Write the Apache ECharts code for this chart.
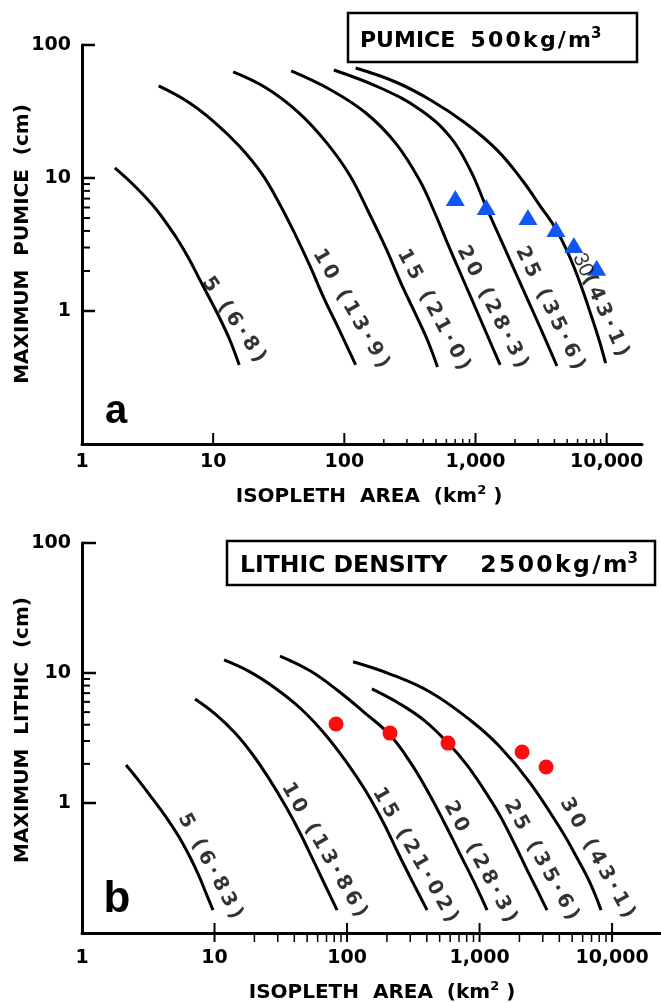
<!DOCTYPE html>
<html>
<head>
<meta charset="utf-8">
<script src="https://cdn.jsdelivr.net/npm/echarts@6/dist/echarts.min.js"></script>
<style>
  html, body { margin: 0; padding: 0; background: #fff; }
  #chart { width: 661px; height: 1003px; }
</style>
</head>
<body>
<div id="chart"></div>
<script>
// ---- panel a: pumice (500 kg/m3) ----
const pumiceLabels = ['5 (6·8)', '10 (13·9)', '15 (21·0)', '20 (28·3)', '25 (35·6)', '(43·1)']
// isopleth area (km2) and max clast size (cm) along each column-height curve
const pumiceArea = [
  [1.78, 2.61, 3.71, 5.26, 6.49, 7.86, 9.53, 11.4, 13.5, 15.8],
  [3.84, 6.27, 10.0, 15.8, 23.6, 32.4, 42.8, 54.7, 69.9, 92.4, 122],
  [14.2, 25.4, 44.4, 72.4, 110, 153, 207, 268, 343, 430, 513],
  [39.3, 79.0, 146, 246, 374, 486, 611, 766, 978, 1228, 1542],
  [83.2, 189, 381, 643, 912, 1207, 1652, 2265, 3101, 4178],
  [122, 246, 454, 836, 1462, 2265, 3155, 4102, 5150, 6350, 7690, 8850, 9820]
]
const pumiceSize = [
  [11.9, 8.41, 5.75, 3.54, 2.50, 1.74, 1.21, 0.856, 0.595, 0.393],
  [49.2, 37.9, 26.8, 17.4, 10.7, 6.27, 3.66, 2.18, 1.25, 0.707, 0.393],
  [62.7, 47.5, 31.3, 18.7, 10.5, 5.55, 2.98, 1.65, 0.983, 0.605, 0.379],
  [63.8, 45.9, 30.8, 18.3, 9.66, 5.55, 3.24, 1.93, 1.11, 0.660, 0.393],
  [64.9, 47.5, 32.5, 20.3, 11.5, 6.05, 3.03, 1.51, 0.758, 0.386],
  [67.1, 52.7, 38.6, 25.9, 16.2, 9.66, 6.05, 4.14, 2.64, 1.57, 0.901, 0.585, 0.406]
]
const pumiceObsArea = [702, 1207, 2512, 4105, 5623, 8395]
const pumiceObsSize = [7.08, 6.05, 5.09, 4.14, 3.13, 2.11]
// where each curve label sits, and its slant (deg)
const pumiceLabelAt = [[14.3, 0.86], [112, 1.04], [478, 1.02], [1340, 1.07], [3690, 1.05], [9000, 1.11]]
const pumiceLabelRot = [-56, -60, -62, -63, -64, -66]

// ---- panel b: lithic (2500 kg/m3) ----
const lithicLabels = ['5 (6·83)', '10 (13·86)', '15 (21·02)', '20 (28·3)', '25 (35·6)', '30 (43·1)']
const lithicArea = [
  [2.15, 2.69, 3.38, 4.31, 5.40, 6.53, 7.64, 8.62, 9.75],
  [7.13, 10.1, 14.3, 19.5, 26.2, 34.7, 44.2, 55.4, 68.2, 84.1],
  [11.8, 18.5, 28.6, 44.2, 65.9, 96.6, 137, 187, 247, 315, 402],
  [31.2, 52.6, 84.1, 134, 211, 299, 408, 539, 700, 908, 1140],
  [154, 251, 388, 578, 791, 1062, 1404, 1821, 2323, 2766, 3228],
  [111, 211, 423, 848, 1429, 2404, 4266, 5445, 6823, 8260]
]
const lithicSize = [
  [1.96, 1.48, 1.09, 0.780, 0.548, 0.384, 0.274, 0.203, 0.150],
  [6.31, 4.84, 3.45, 2.34, 1.50, 0.931, 0.588, 0.365, 0.234, 0.150],
  [12.6, 10.2, 7.67, 5.38, 3.52, 2.14, 1.26, 0.714, 0.398, 0.243, 0.150],
  [13.5, 10.4, 7.40, 5.01, 3.33, 2.07, 1.22, 0.714, 0.420, 0.247, 0.150],
  [7.54, 5.78, 4.27, 2.89, 2.00, 1.30, 0.823, 0.492, 0.295, 0.207, 0.150],
  [12.2, 9.82, 7.14, 4.35, 2.70, 1.43, 0.588, 0.377, 0.243, 0.150]
]
const lithicObsArea = [82.6, 211, 578, 2094, 3177]
const lithicObsSize = [4.05, 3.45, 2.89, 2.47, 1.89]
const lithicLabelAt = [[9.25, 0.327], [67.0, 0.435], [326, 0.398], [1009, 0.352], [2911, 0.365], [7709, 0.377]]
const lithicLabelRot = [-62, -60, -60, -62, -61, -61]

// ---- axes ----
const areaTickLabels = ['1', '10', '100', '1,000', '10,000']
const sizeTickLabels = ['', '1', '10', '100']
const sizeMajor = [1, 10, 100]
const sizeMinor = [2, 3, 4, 5, 6, 7, 8, 9]
const areaMajor = [10, 100, 1000, 10000]
const areaMinorTop = [200, 300, 400, 500, 600, 700, 800, 900, 2000, 3000, 4000, 5000, 6000, 7000, 8000, 9000]
const areaMinorBottom = [20, 30, 40, 50, 60, 70, 80, 90].concat(areaMinorTop)

const FONT = 'DejaVu Sans'
const spread = s => Array.from(s).join('\u2009')
const hair = s => Array.from(s).join('\u200a')

const chart = echarts.init(document.getElementById('chart'))

function curveSeries(idx, areas, sizes) {
  return areas.map((xs, i) => ({
    type: 'line',
    xAxisIndex: idx,
    yAxisIndex: idx,
    smooth: 0.4,
    symbol: 'none',
    silent: true,
    z: 3,
    lineStyle: { color: '#000', width: 3 },
    data: xs.map((x, j) => [x, sizes[i][j]])
  }))
}

function labelSeries(idx, at, rot, texts) {
  return {
    type: 'scatter',
    xAxisIndex: idx,
    yAxisIndex: idx,
    symbolSize: 1,
    silent: true,
    z: 10,
    itemStyle: { color: 'transparent' },
    label: {
      show: true,
      position: 'inside',
      color: '#000',
      fontFamily: FONT,
      fontWeight: 'bold',
      fontSize: 20,
      rich: {
        n: { fontFamily: 'Liberation Sans', fontWeight: 'normal', fontSize: 21, color: '#000' }
      }
    },
    data: at.map((p, i) => ({
      value: p,
      label: { rotate: rot[i], formatter: texts[i] }
    }))
  }
}

// tick marks drawn through the axis scales; a, b = pixel offsets from the axis line
function tickSeries(idx, dir, values, a, b, w, xMin) {
  return {
    type: 'custom',
    xAxisIndex: idx,
    yAxisIndex: idx,
    silent: true,
    clip: false,
    z: 6,
    data: values.map(v => (dir === 'x' ? [v, 0.1] : [xMin, v])),
    renderItem: (params, api) => {
      const p = api.coord([api.value(0), api.value(1)])
      const shape = dir === 'x'
        ? { x1: p[0], y1: p[1] + a, x2: p[0], y2: p[1] + b }
        : { x1: p[0] + a, y1: p[1], x2: p[0] + b, y2: p[1] }
      return { type: 'line', shape: shape, style: { stroke: '#000', lineWidth: w } }
    }
  }
}

const axisText = { color: '#000', fontFamily: FONT, fontWeight: 'bold', fontSize: 19 }

function xAxis(idx, max, margin) {
  return {
    type: 'log', logBase: 10, gridIndex: idx, min: 1, max: max,
    axisLine: { onZero: false, lineStyle: { color: '#000', width: 3 } },
    axisTick: { show: false },
    splitLine: { show: false },
    axisLabel: Object.assign({}, axisText, {
      margin: margin,
      showMaxLabel: false,
      formatter: v => areaTickLabels[Math.round(Math.log10(v))] || ''
    })
  }
}

function yAxis(idx) {
  return {
    type: 'log', logBase: 10, gridIndex: idx, min: 0.1, max: 100,
    axisLine: { onZero: false, lineStyle: { color: '#000', width: 3 } },
    axisTick: { show: false },
    splitLine: { show: false },
    axisLabel: Object.assign({}, axisText, {
      margin: 11,
      formatter: v => sizeTickLabels[Math.round(Math.log10(v)) + 1] || ''
    })
  }
}

const titleText = { fill: '#000', fontFamily: FONT, fontWeight: 'bold', fontSize: 20 }
const titleRich = {
  t: { fontFamily: FONT, fontWeight: 'bold', fontSize: 20, lineHeight: 26 },
  s: { fontFamily: FONT, fontWeight: 'bold', fontSize: 13, verticalAlign: 'top', lineHeight: 26 }
}

const option = {
  animation: false,
  backgroundColor: '#fff',
  grid: [
    { left: 82, top: 45, width: 560, height: 399 },
    { left: 82, top: 543, width: 579, height: 390 }
  ],
  xAxis: [xAxis(0, 18600, 9), xAxis(1, 23400, 16)],
  yAxis: [yAxis(0), yAxis(1)],
  series: [].concat(
    curveSeries(0, pumiceArea, pumiceSize),
    curveSeries(1, lithicArea, lithicSize),
    [
      {
        type: 'scatter', xAxisIndex: 0, yAxisIndex: 0, z: 8, silent: true,
        symbol: 'triangle', symbolSize: [19, 16],
        itemStyle: { color: '#1158f2', opacity: 1 },
        data: pumiceObsArea.map((x, i) => [x, pumiceObsSize[i]])
      },
      {
        type: 'scatter', xAxisIndex: 1, yAxisIndex: 1, z: 8, silent: true,
        symbol: 'circle', symbolSize: 15,
        itemStyle: { color: '#fb0d0d', opacity: 1 },
        data: lithicObsArea.map((x, i) => [x, lithicObsSize[i]])
      },
      labelSeries(0, pumiceLabelAt, pumiceLabelRot,
        pumiceLabels.map((t, i) => (i === 5 ? '{n|30}' + spread(t) : spread(t)))),
      labelSeries(1, lithicLabelAt, lithicLabelRot, lithicLabels.map(spread)),
      tickSeries(0, 'y', sizeMajor, 0, 13, 2.5, 1),
      tickSeries(0, 'y', sizeMinor, 0, 8, 2, 1),
      tickSeries(0, 'x', areaMajor, 0, -11, 2),
      tickSeries(0, 'x', areaMinorTop, 0, -5, 1.5),
      tickSeries(1, 'y', sizeMajor, 0, 14, 2.5, 1),
      tickSeries(1, 'y', sizeMinor, 0, 8, 2, 1),
      tickSeries(1, 'x', areaMajor, 9, -10, 2),
      tickSeries(1, 'x', areaMinorBottom, 0, 9, 1.5)
    ]
  ),
  graphic: [
    // axis titles
    {
      type: 'text', x: 23, y: 244, rotation: Math.PI / 2,
      style: Object.assign({ text: 'MAXIMUM  PUMICE  (cm)', align: 'center', verticalAlign: 'middle' }, titleText)
    },
    {
      type: 'text', x: 23, y: 730, rotation: Math.PI / 2,
      style: Object.assign({ text: 'MAXIMUM  LITHIC  (cm)', align: 'center', verticalAlign: 'middle' }, titleText)
    },
    {
      type: 'text', x: 369, y: 497,
      style: Object.assign({
        text: '{t|ISOPLETH  AREA  (km}{s|2}{t| )}', align: 'center', verticalAlign: 'middle', rich: titleRich
      }, titleText)
    },
    {
      type: 'text', x: 382, y: 993,
      style: Object.assign({
        text: '{t|ISOPLETH  AREA  (km}{s|2}{t| )}', align: 'center', verticalAlign: 'middle', rich: titleRich
      }, titleText)
    },
    // density boxes
    {
      type: 'rect', shape: { x: 348, y: 13, width: 289, height: 49 },
      style: { fill: '#fff', stroke: '#000', lineWidth: 2.5 }, z: 20
    },
    {
      type: 'text', x: 360, y: 41, z: 21,
      style: {
        text: '{t|PUMICE  ' + hair('500kg/m') + '}{s|3}', align: 'left', verticalAlign: 'middle',
        rich: {
          t: { fill: '#000', fontFamily: FONT, fontWeight: 'bold', fontSize: 22, lineHeight: 28 },
          s: { fill: '#000', fontFamily: FONT, fontWeight: 'bold', fontSize: 15, verticalAlign: 'top', lineHeight: 28 }
        }
      }
    },
    {
      type: 'rect', shape: { x: 227, y: 541, width: 428, height: 44 },
      style: { fill: '#fff', stroke: '#000', lineWidth: 2.5 }, z: 20
    },
    {
      type: 'text', x: 240, y: 566, z: 21,
      style: {
        text: '{t|LITHIC DENSITY    ' + hair('2500kg/m') + '}{s|3}', align: 'left', verticalAlign: 'middle',
        rich: {
          t: { fill: '#000', fontFamily: FONT, fontWeight: 'bold', fontSize: 23.5, lineHeight: 28 },
          s: { fill: '#000', fontFamily: FONT, fontWeight: 'bold', fontSize: 15, verticalAlign: 'top', lineHeight: 28 }
        }
      }
    },
    // panel letters
    {
      type: 'text', x: 116, y: 412,
      style: { text: 'a', fill: '#000', fontFamily: 'Liberation Sans', fontWeight: 'bold', fontSize: 40, align: 'center', verticalAlign: 'middle' }
    },
    {
      type: 'text', x: 117, y: 900,
      style: { text: 'b', fill: '#000', fontFamily: 'Liberation Sans', fontWeight: 'bold', fontSize: 44, align: 'center', verticalAlign: 'middle' }
    }
  ]
}

chart.setOption(option)
</script>
</body>
</html>
